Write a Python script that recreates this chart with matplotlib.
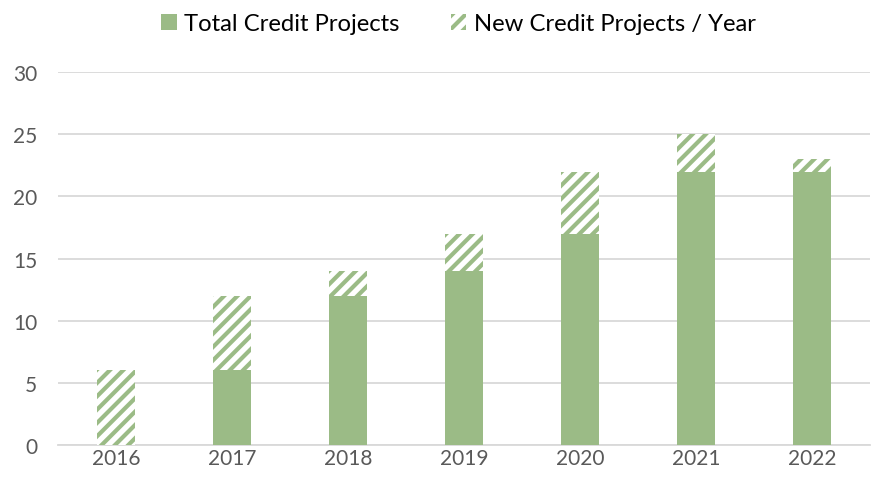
import matplotlib
matplotlib.use("Agg")
import matplotlib.pyplot as plt
from matplotlib.patches import Patch
import numpy as np

years = ["2016", "2017", "2018", "2019", "2020", "2021", "2022"]
total_credit = [0, 6, 12, 14, 17, 22, 22]
new_credit = [6, 6, 2, 3, 5, 3, 1]
yticks = [0, 5, 10, 15, 20, 25, 30]

green = "#9BBB86"
text_c = "#595959"
grid_c = "#D9D9D9"

DPI = 120
k = 100 / DPI  # scale point sizes so they look as at 100 dpi

plt.rcParams['font.family'] = ['Lato', 'DejaVu Sans']
plt.rcParams['hatch.linewidth'] = 3.0 * k

fig = plt.figure(figsize=(879 / DPI, 492 / DPI), dpi=DPI)
ax = fig.add_axes([0.066, 0.0935, 0.924, 0.758])

x = np.arange(len(years))
w = 0.33
ax.bar(x, total_credit, width=w, color=green, edgecolor='none', zorder=3)
ax.bar(x, new_credit, width=w, bottom=total_credit, facecolor='white',
       edgecolor=green, linewidth=0, hatch='///', zorder=3)

ax.set_ylim(0, 30)
ax.set_xlim(-0.5, len(years) - 0.5)
ax.set_yticks(yticks)
ax.set_xticks(x)
ax.set_xticklabels(years)
ax.yaxis.grid(True, color=grid_c, linewidth=1.3 * k, zorder=0)
ax.set_axisbelow(True)
for s in ['top', 'right', 'left']:
    ax.spines[s].set_visible(False)
ax.spines['bottom'].set_color(grid_c)
ax.spines['bottom'].set_linewidth(1.3 * k)
ax.tick_params(axis='both', length=0, labelsize=15 * k, colors=text_c)
ax.tick_params(axis='x', pad=2 * k)
ax.tick_params(axis='y', pad=15 * k)

handles = [Patch(facecolor=green, edgecolor='none', label='Total Credit Projects'),
           Patch(facecolor='white', edgecolor=green, linewidth=0, hatch='///',
                 label='New Credit Projects / Year')]
leg = fig.legend(handles=handles, loc='upper center', bbox_to_anchor=(0.5216, 1.015), ncol=2,
                 frameon=False, fontsize=17.2 * k, handlelength=0.65, handleheight=0.65,
                 handletextpad=0.3, columnspacing=2.15)
for t in leg.get_texts():
    t.set_color('#000000')

fig.savefig("out.png", dpi=DPI)
